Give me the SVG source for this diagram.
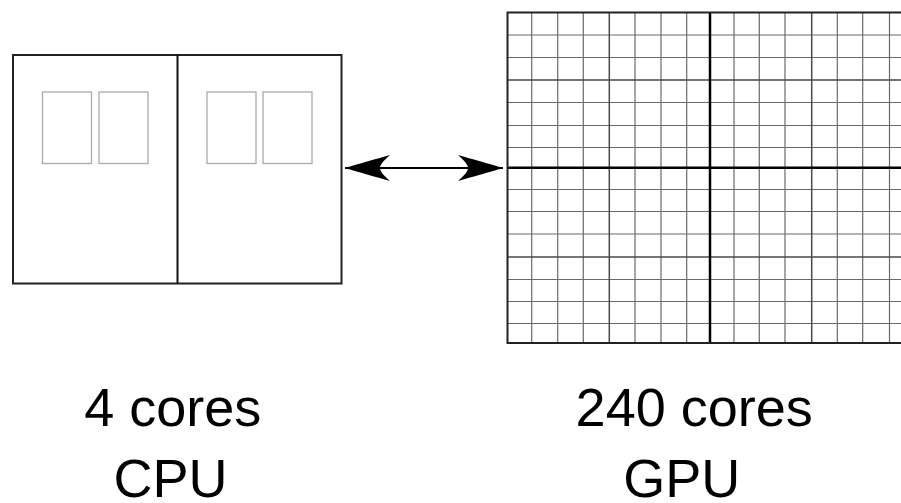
<svg xmlns="http://www.w3.org/2000/svg" width="901" height="503" viewBox="0 0 901 503">
<style>
.frame{fill:none;stroke:#222;stroke-width:2}
.div{stroke:#111;stroke-width:2}
.core{fill:none;stroke:#aaa;stroke-width:1.3}
.grid{stroke:#6a6a6a;stroke-width:1.2}
.quarter{stroke:#4a4a4a;stroke-width:1.5}
.axis{stroke:#000;stroke-width:2.5}
.lbl{font-family:"Liberation Sans",Arial,sans-serif;font-size:54px;fill:#000;text-anchor:middle}
</style>
<defs>
<marker id="ah" markerUnits="userSpaceOnUse" markerWidth="46" markerHeight="28" viewBox="0 0 46 28" refX="45" refY="14" orient="auto-start-reverse">
<path d="M45,14 C32,10 14,5 0,1 C7,7 10,11 10,14 C10,17 7,21 0,27 C14,23 32,18 45,14 Z" fill="#000"/>
</marker>
</defs>
<rect width="901" height="503" fill="#fff"/>
<g id="cpu">
<rect class="frame" x="13" y="55" width="328.5" height="228.5"/>
<line class="div" x1="177.5" y1="55" x2="177.5" y2="283.5"/>
<rect class="core" x="42.5" y="92" width="49" height="71.5"/>
<rect class="core" x="99" y="92" width="49" height="71.5"/>
<rect class="core" x="207" y="92" width="49" height="71.5"/>
<rect class="core" x="263" y="92" width="49" height="71.5"/>
</g>
<g id="gpu">
<g class="grid">
<line x1="531.7" y1="12.5" x2="531.7" y2="343"/>
<line x1="557.7" y1="12.5" x2="557.7" y2="343"/>
<line x1="583.3" y1="12.5" x2="583.3" y2="343"/>
<line x1="635" y1="12.5" x2="635" y2="343"/>
<line x1="661" y1="12.5" x2="661" y2="343"/>
<line x1="686.7" y1="12.5" x2="686.7" y2="343"/>
<line x1="734" y1="12.5" x2="734" y2="343"/>
<line x1="759.3" y1="12.5" x2="759.3" y2="343"/>
<line x1="785" y1="12.5" x2="785" y2="343"/>
<line x1="837.3" y1="12.5" x2="837.3" y2="343"/>
<line x1="862.7" y1="12.5" x2="862.7" y2="343"/>
<line x1="889.5" y1="12.5" x2="889.5" y2="343"/>
<line x1="507" y1="35" x2="901" y2="35"/>
<line x1="507" y1="57.5" x2="901" y2="57.5"/>
<line x1="507" y1="102.5" x2="901" y2="102.5"/>
<line x1="507" y1="125.5" x2="901" y2="125.5"/>
<line x1="507" y1="147.5" x2="901" y2="147.5"/>
<line x1="507" y1="189.5" x2="901" y2="189.5"/>
<line x1="507" y1="211.5" x2="901" y2="211.5"/>
<line x1="507" y1="234" x2="901" y2="234"/>
<line x1="507" y1="279.5" x2="901" y2="279.5"/>
<line x1="507" y1="301.5" x2="901" y2="301.5"/>
<line x1="507" y1="323.5" x2="901" y2="323.5"/>
</g>
<g class="quarter">
<line x1="609.3" y1="12.5" x2="609.3" y2="343"/>
<line x1="811.7" y1="12.5" x2="811.7" y2="343"/>
<line x1="507" y1="80" x2="901" y2="80"/>
<line x1="507" y1="257" x2="901" y2="257"/>
</g>
<g class="axis">
<line x1="710" y1="12.5" x2="710" y2="343"/>
<line x1="507" y1="167.7" x2="901" y2="167.7"/>
</g>
<path class="frame" d="M901,12.5 H507.5 V343 H901" stroke="#000"/>
</g>
<g id="connectors">
<line x1="345" y1="168" x2="503" y2="168" stroke="#000" stroke-width="2" marker-start="url(#ah)" marker-end="url(#ah)"/>
</g>
<g id="cpu-label">
<text class="lbl" x="172.8" y="425.7">4 cores</text>
<text class="lbl" x="170.5" y="497">CPU</text>
</g>
<g id="gpu-label">
<text class="lbl" x="694.2" y="425.7">240 cores</text>
<text class="lbl" x="681.7" y="497">GPU</text>
</g>
</svg>
